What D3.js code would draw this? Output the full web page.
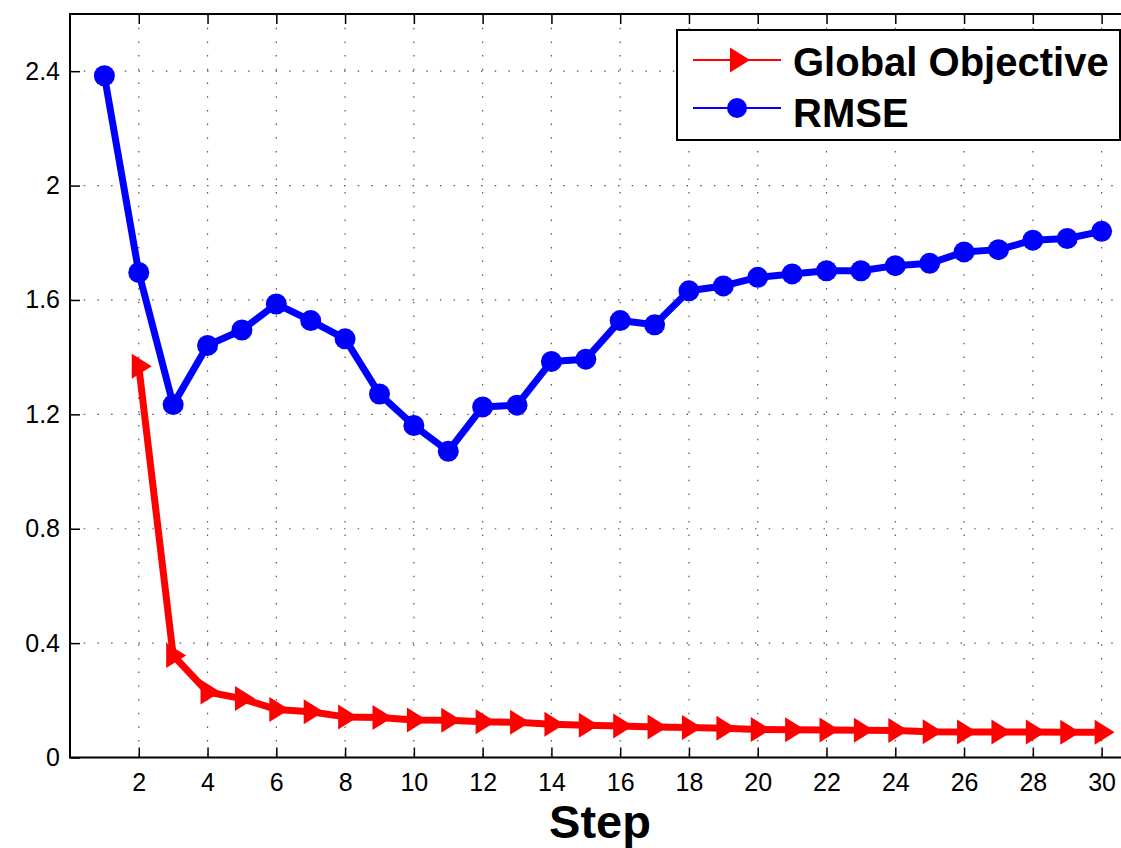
<!DOCTYPE html>
<html>
<head>
<meta charset="utf-8">
<script src="https://cdn.jsdelivr.net/npm/d3@7"></script>
<style>
  body { margin: 0; background: #fff; }
  svg { display: block; }
  text { font-family: "Liberation Sans", Arial, Helvetica, sans-serif; }
</style>
</head>
<body>
<div id="chart"></div>
<script>
// values
const objSteps = [2,3,4,5,6,7,8,9,10,11,12,13,14,15,16,17,18,19,20,21,22,23,24,25,26,27,28,29,30]
const objValues = [1.368,0.357,0.229,0.206,0.168,0.160,0.142,0.140,0.131,0.130,0.125,0.123,0.116,0.113,0.110,0.107,0.105,0.102,0.098,0.097,0.096,0.095,0.094,0.090,0.089,0.089,0.089,0.088,0.088]

const rmseSteps = [1,2,3,4,5,6,7,8,9,10,11,12,13,14,15,16,17,18,19,20,21,22,23,24,25,26,27,28,29,30]
const rmseValues = [2.384,1.696,1.234,1.441,1.495,1.586,1.528,1.464,1.271,1.161,1.071,1.226,1.232,1.385,1.393,1.528,1.513,1.632,1.649,1.679,1.691,1.702,1.702,1.720,1.728,1.768,1.776,1.809,1.815,1.840]

const xTicks = [2,4,6,8,10,12,14,16,18,20,22,24,26,28,30]
const yTicks = [0,0.4,0.8,1.2,1.6,2,2.4]
const legendNames = ["Global Objective", "RMSE"]

const width = 1121
const height = 848

// plot box (right edge runs off the page like in the picture)
const boxLeft = 70, boxTop = 14, boxRight = 1136, boxBottom = 757.5

var x = d3.scaleLinear().domain([0, 31]).range([boxLeft, boxRight])
var y = d3.scaleLinear().domain([0, 2.6]).range([boxBottom, boxTop])

var svg = d3.select("#chart")
            .append("svg")
            .attr("width", width)
            .attr("height", height)

// dotted grid
var grid = svg.append("g")
              .attr("stroke", "#555")
              .attr("stroke-width", 1.2)
              .attr("stroke-dasharray", "1.5,12.2")

grid.selectAll("line.v")
    .data(xTicks)
    .enter()
    .append("line")
    .attr("x1", d => x(d)).attr("x2", d => x(d))
    .attr("y1", boxTop).attr("y2", boxBottom)

grid.selectAll("line.h")
    .data(yTicks.filter(d => d > 0))
    .enter()
    .append("line")
    .attr("x1", boxLeft).attr("x2", boxRight)
    .attr("y1", d => y(d)).attr("y2", d => y(d))

// axes, ticks pointing inwards
svg.append("g")
   .attr("transform", "translate(0," + boxBottom + ")")
   .call(d3.axisBottom(x).tickValues(xTicks).tickSizeInner(-10).tickSizeOuter(0).tickPadding(16))
   .call(g => g.select(".domain").remove())

svg.append("g")
   .attr("transform", "translate(0," + boxTop + ")")
   .call(d3.axisTop(x).tickValues(xTicks).tickSizeInner(-10).tickSizeOuter(0).tickFormat(""))
   .call(g => g.select(".domain").remove())

svg.append("g")
   .attr("transform", "translate(" + boxLeft + ",0)")
   .call(d3.axisLeft(y).tickValues(yTicks).tickSizeInner(-10).tickSizeOuter(0).tickPadding(10).tickFormat(d3.format("~g")))
   .call(g => g.select(".domain").remove())

svg.selectAll(".tick line").attr("stroke", "#000").attr("stroke-width", 1.5)
svg.selectAll(".tick text")
   .attr("font-size", 25)
   .attr("fill", "#000")
   .style("font-family", "'Liberation Sans', Arial, sans-serif")

// box
svg.append("rect")
   .attr("x", boxLeft).attr("y", boxTop)
   .attr("width", boxRight - boxLeft).attr("height", boxBottom - boxTop)
   .attr("fill", "none")
   .attr("stroke", "#000")
   .attr("stroke-width", 2)

const tri = "M-7,-12.5L13,0L-7,12.5Z"

var line = d3.line().x(d => x(d[0])).y(d => y(d[1]))

// Global Objective (red)
var objData = d3.zip(objSteps, objValues)
svg.append("path")
   .datum(objData)
   .attr("d", line)
   .attr("fill", "none")
   .attr("stroke", "#ff0000")
   .attr("stroke-width", 7)
   .attr("stroke-linejoin", "round")

svg.append("g").selectAll("path")
   .data(objData)
   .enter()
   .append("path")
   .attr("d", tri)
   .attr("transform", d => "translate(" + x(d[0]) + "," + y(d[1]) + ")")
   .attr("fill", "#ff0000")

// RMSE (blue)
var rmseData = d3.zip(rmseSteps, rmseValues)
svg.append("path")
   .datum(rmseData)
   .attr("d", line)
   .attr("fill", "none")
   .attr("stroke", "#0000ff")
   .attr("stroke-width", 7)
   .attr("stroke-linejoin", "round")

svg.append("g").selectAll("circle")
   .data(rmseData)
   .enter()
   .append("circle")
   .attr("cx", d => x(d[0]))
   .attr("cy", d => y(d[1]))
   .attr("r", 10.5)
   .attr("fill", "#0000ff")

// x label
svg.append("text")
   .attr("x", 600)
   .attr("y", 838)
   .attr("text-anchor", "middle")
   .attr("font-size", 47)
   .attr("font-weight", "bold")
   .text("Step")

// legend
var legend = svg.append("g")
legend.append("rect")
      .attr("x", 677).attr("y", 30)
      .attr("width", 443).attr("height", 110)
      .attr("fill", "#fff")
      .attr("stroke", "#000")
      .attr("stroke-width", 2)

const legColors = ["#ff0000", "#0000ff"]
const legY = [60, 108]
const legBase = [76, 127]
legendNames.forEach(function(name, i) {
  legend.append("line")
        .attr("x1", 693).attr("x2", 781)
        .attr("y1", legY[i]).attr("y2", legY[i])
        .attr("stroke", legColors[i])
        .attr("stroke-width", 2)
  if (i === 0) {
    legend.append("path")
          .attr("d", tri)
          .attr("transform", "translate(737," + legY[i] + ")")
          .attr("fill", legColors[i])
  } else {
    legend.append("circle")
          .attr("cx", 737).attr("cy", legY[i])
          .attr("r", 10)
          .attr("fill", legColors[i])
  }
  legend.append("text")
        .attr("x", 793)
        .attr("y", legBase[i])
        .attr("font-size", 40)
        .attr("font-weight", "bold")
        .text(name)
})
</script>
</body>
</html>
